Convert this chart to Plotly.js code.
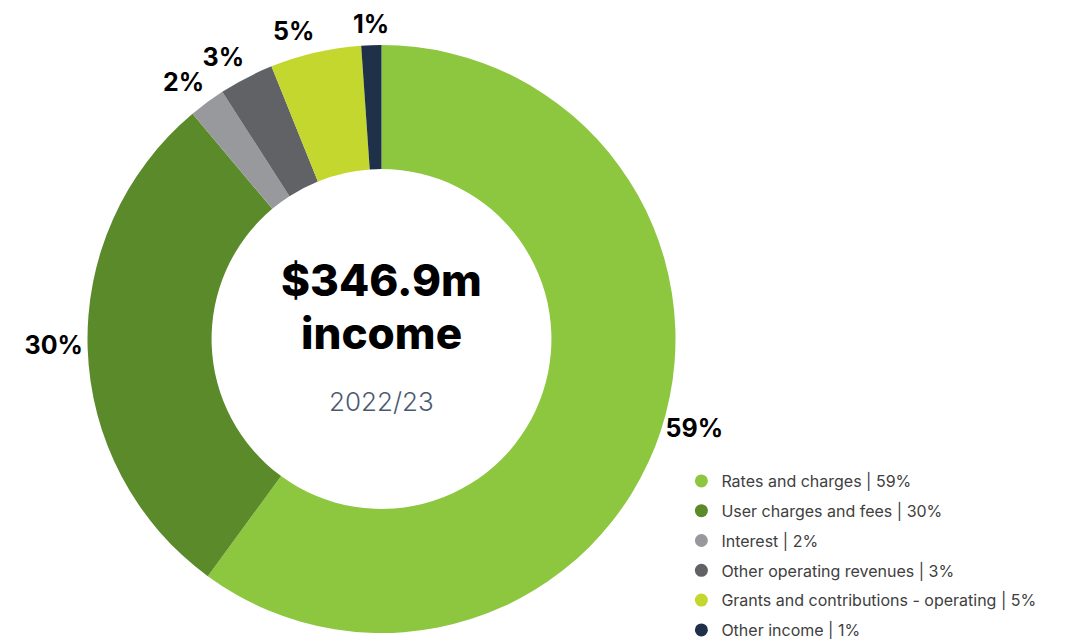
<!DOCTYPE html>
<html>
<head>
<meta charset="utf-8">
<script src="https://cdn.plot.ly/plotly-3.0.1.min.js"></script>
<style>
  html, body { margin: 0; padding: 0; background: #ffffff; width: 1068px; height: 639px; overflow: hidden; }
  #chart { width: 1068px; height: 660px; }
</style>
</head>
<body>
<div id="chart"></div>
<script>
// ---- data ----
const categories = [
  "Rates and charges",
  "User charges and fees",
  "Interest",
  "Other operating revenues",
  "Grants and contributions - operating",
  "Other income"
];
// share of income (%)
const shares = [60.0, 28.8, 2.0, 3.0, 5.0, 1.1];
// printed labels
const pctLabels = ["59%", "30%", "2%", "3%", "5%", "1%"];
const colors = ["#8dc63f", "#5b8a2b", "#98999d", "#616265", "#c3d72f", "#1f3049"];
const centreTitle = ["$346.9m", "income"];
const centreSub = "2022/23";

// ---- layout geometry (pixels) ----
const W = 1068, H = 660;          // figure is a little taller than the window; bottom is cropped like the original
const cx = 381.5, cy = 339, R = 294;
const labelRange = 1.1;           // polar radial range: pie outer edge sits at r = 1
const pieDomain = { x: [(cx - R) / W, (cx + R) / W], y: [(H - cy - R) / H, (H - cy + R) / H] };
const Rp = R * labelRange;
const polarDomain = { x: [(cx - Rp) / W, (cx + Rp) / W], y: [(H - cy - Rp) / H, (H - cy + Rp) / H] };

const total = shares.reduce((a, b) => a + b, 0);
let acc = 0;
const midAngles = shares.map(v => { const m = (acc + v / 2) / total * 360; acc += v; return m; });
function labelPos(t) {
  if (t < 15 || t >= 352) return "top center";
  if (t < 160) return "middle right";
  if (t < 200) return "bottom center";
  if (t < 250) return "bottom left";
  if (t < 295) return "middle left";
  return "top left";
}

// ---- traces ----
const pie = {
  type: "pie",
  values: shares,
  labels: categories,
  textinfo: "none",
  sort: false,
  direction: "clockwise",
  rotation: 0,
  hole: 0.578,
  marker: { colors: colors, line: { width: 0 } },
  hoverinfo: "none",
  showlegend: false,
  domain: pieDomain
};

const labelsLayer = {
  type: "scatterpolar",
  mode: "text",
  theta: midAngles,
  r: shares.map(() => 1.02),
  text: pctLabels,
  textposition: midAngles.map(labelPos),
  textfont: { family: "Inter, sans-serif", size: 25, color: "#000000", weight: 700 },
  cliponaxis: false,
  hoverinfo: "none",
  showlegend: false
};

const legendTraces = categories.map((c, i) => ({
  type: "scatter",
  mode: "markers",
  x: [null],
  y: [null],
  name: c + " | " + pctLabels[i],
  legendgroup: "g" + i,
  marker: { color: colors[i], size: 13, symbol: "circle" },
  hoverinfo: "none",
  showlegend: true
}));

const layout = {
  width: W,
  height: H,
  margin: { l: 0, r: 0, t: 0, b: 0 },
  paper_bgcolor: "#ffffff",
  plot_bgcolor: "#ffffff",
  xaxis: { visible: false },
  yaxis: { visible: false },
  polar: {
    domain: polarDomain,
    bgcolor: "rgba(0,0,0,0)",
    radialaxis: { range: [0, labelRange], visible: false, showgrid: false, showline: false },
    angularaxis: { rotation: 90, direction: "clockwise", visible: false, showgrid: false, showline: false }
  },
  showlegend: true,
  legend: {
    x: 0.638,
    xanchor: "left",
    y: (H - 647) / H,
    yanchor: "bottom",
    font: { family: "Inter, sans-serif", size: 16, color: "#404040" },
    tracegroupgap: 6,
    itemclick: false,
    bgcolor: "rgba(0,0,0,0)"
  },
  annotations: [
    { text: centreTitle[0], x: cx / W, y: 1 - 279.5 / H, xref: "paper", yref: "paper",
      showarrow: false, xanchor: "center", yanchor: "middle",
      font: { family: "Inter, sans-serif", size: 44, color: "#000000", weight: 800 } },
    { text: centreTitle[1], x: cx / W, y: 1 - 332.5 / H, xref: "paper", yref: "paper",
      showarrow: false, xanchor: "center", yanchor: "middle",
      font: { family: "Inter, sans-serif", size: 44, color: "#000000", weight: 800 } },
    { text: centreSub, x: cx / W, y: 1 - 401 / H, xref: "paper", yref: "paper",
      showarrow: false, xanchor: "center", yanchor: "middle",
      font: { family: "Inter, sans-serif", size: 26, color: "#4a5970", weight: 300 } }
  ]
};

Plotly.newPlot("chart", [pie, labelsLayer].concat(legendTraces), layout, { displayModeBar: false, staticPlot: true });
</script>
</body>
</html>
